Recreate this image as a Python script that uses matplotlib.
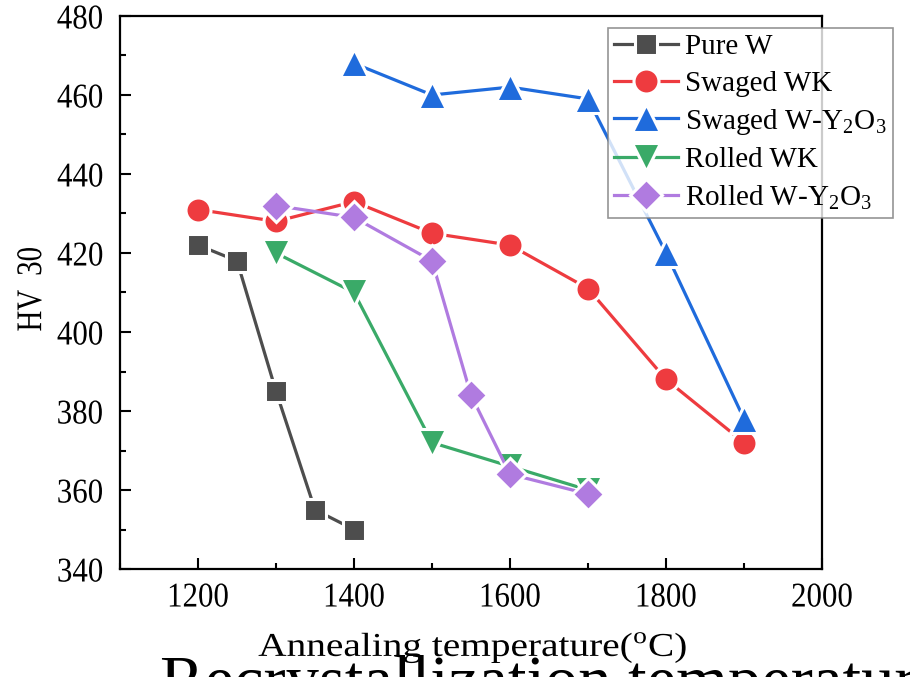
import matplotlib
matplotlib.use("Agg")
import matplotlib.pyplot as plt
from matplotlib.ticker import MultipleLocator
from matplotlib.patheffects import AbstractPathEffect
from matplotlib.transforms import Affine2D

plt.rcParams['font.family'] = ['Liberation Serif', 'DejaVu Serif']
plt.rcParams['mathtext.fontset'] = 'custom'
plt.rcParams['mathtext.rm'] = 'Liberation Serif'

# annealing temperature (C) vs hardness HV30
pure_w_t = [1200, 1250, 1300, 1350, 1400]
pure_w_hv = [422, 418, 385, 355, 350]

swaged_wk_t = [1200, 1300, 1400, 1500, 1600, 1700, 1800, 1900]
swaged_wk_hv = [431, 428, 433, 425, 422, 411, 388, 372]

swaged_wy_t = [1400, 1500, 1600, 1700, 1800, 1900]
swaged_wy_hv = [468, 460, 462, 459, 420, 378]

rolled_wk_t = [1300, 1400, 1500, 1600, 1700]
rolled_wk_hv = [420, 410, 372, 366, 360]

rolled_wy_t = [1300, 1400, 1500, 1550, 1600, 1700]
rolled_wy_hv = [432, 429, 418, 384, 364, 359]

series = [
    (pure_w_t, pure_w_hv, "Pure W", "#4d4d4d", "s", 16),
    (swaged_wk_t, swaged_wk_hv, "Swaged WK", "#ee3b3f", "o", 18),
    (swaged_wy_t, swaged_wy_hv, r"Swaged W-Y$_2$O$_3$", "#1f6bdc", "^", 20),
    (rolled_wk_t, rolled_wk_hv, "Rolled WK", "#3aaa68", "v", 20),
    (rolled_wy_t, rolled_wy_hv, r"Rolled W-Y$_2$O$_3$", "#b07be0", "D", 16),
]


class Squeeze(AbstractPathEffect):
    """Scale glyphs along the reading direction, keeping the text centre."""

    def __init__(self, sx):
        super().__init__()
        self.sx = sx

    def draw_path(self, renderer, gc, tpath, affine, rgbFace=None):
        xs = tpath.vertices[:, 0]
        cx = 0.5 * (xs.min() + xs.max()) if len(xs) else 0.0
        squeeze = Affine2D().translate(-cx, 0).scale(self.sx, 1).translate(cx, 0)
        renderer.draw_path(gc, tpath, squeeze + affine, rgbFace)


fig = plt.figure(figsize=(9.1, 6.77), dpi=100)
ax = fig.add_axes([0.1319, 0.1595, 0.7714, 0.8169])

for t, hv, name, color, marker, ms in series:
    ax.plot(t, hv, color=color, lw=2.3, marker=marker, ms=ms,
            markerfacecolor=color, markeredgecolor="white",
            markeredgewidth=2.2, label=name, clip_on=False)

ax.set_xlim(1100, 2000)
ax.set_ylim(340, 480)
ax.xaxis.set_major_locator(MultipleLocator(200))
ax.xaxis.set_minor_locator(MultipleLocator(100))
ax.yaxis.set_major_locator(MultipleLocator(20))
ax.yaxis.set_minor_locator(MultipleLocator(10))
ax.tick_params(which="both", direction="in", top=False, right=False,
               labelsize=25, width=1.5)
ax.tick_params(which="major", length=8)
ax.tick_params(axis="x", which="major", pad=9)
ax.tick_params(axis="y", which="major", pad=10)
ax.tick_params(which="minor", length=4)
for sp in ax.spines.values():
    sp.set_linewidth(1.6)

ax.set_xlabel("Annealing temperature($^{\\mathrm{o}}$C)", fontsize=24)
ax.xaxis.set_label_coords(0.503, -0.111)
ax.set_ylabel("HV  30", fontsize=26)
ax.yaxis.set_label_coords(-0.101, 0.506)

leg = ax.legend(loc="upper left", bbox_to_anchor=(0.695, 0.978), fontsize=21,
                frameon=True, fancybox=False, edgecolor="#7a7a7a",
                handlelength=2.2, handletextpad=0.25, borderpad=0.2,
                labelspacing=0.34, borderaxespad=0)
leg.get_frame().set_linewidth(1.2)

fig.text(0.176, -0.037, "Recrystallization temperature", fontsize=48,
         ha="left", va="baseline")

fig.canvas.draw()
for lbl in ax.get_xticklabels() + ax.get_yticklabels():
    lbl.set_path_effects([Squeeze(0.89)])
ax.xaxis.label.set_path_effects([Squeeze(1.18)])
ax.yaxis.label.set_path_effects([Squeeze(0.8)])

fig.savefig("out.png", dpi=100)
